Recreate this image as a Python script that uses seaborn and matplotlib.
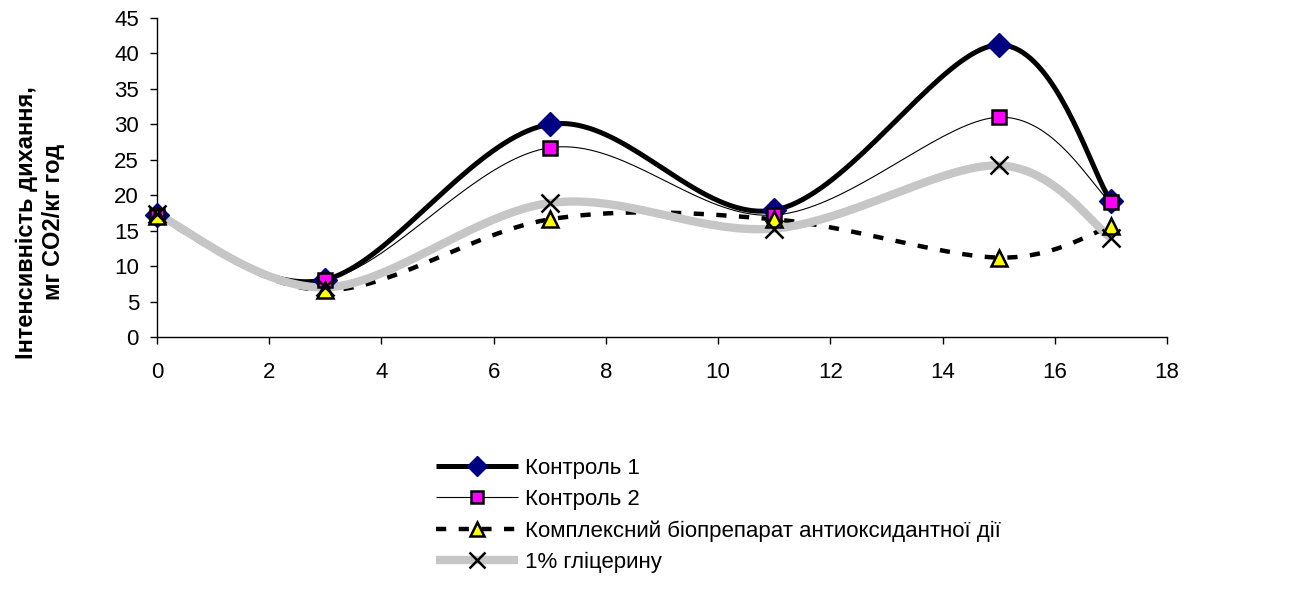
import numpy as np
import pandas as pd
import matplotlib
matplotlib.use("Agg")
import matplotlib.pyplot as plt
from matplotlib.lines import Line2D
import seaborn as sns

# Storage days and respiration intensity (mg CO2 / kg·h)
days = [0, 3, 7, 11, 15, 17]
control1 = [17.2, 8.1, 30.0, 17.9, 41.2, 19.2]
control2 = [17.1, 8.1, 26.7, 17.2, 31.0, 19.0]
complex_bio = [17.0, 6.6, 16.6, 16.6, 11.2, 15.6]
glycerin = [17.3, 7.0, 18.9, 15.3, 24.2, 14.0]

labels = ["Контроль 1", "Контроль 2",
          "Комплексний біопрепарат антиоксидантної дії", "1% гліцерину"]
x_ticks = [0, 2, 4, 6, 8, 10, 12, 14, 16, 18]
y_ticks = [0, 5, 10, 15, 20, 25, 30, 35, 40, 45]
xlim = (0, 18)
ylim = (0, 45)

sns.set_theme(style="ticks")
plt.rcParams["font.family"] = ["Liberation Sans", "DejaVu Sans"]
plt.rcParams.update({"text.color": "black", "axes.labelcolor": "black",
                     "xtick.color": "black", "ytick.color": "black",
                     "lines.solid_capstyle": "butt"})

W, H = 1296, 592
fig = plt.figure(figsize=(W / 100, H / 100), dpi=100)
ax = fig.add_axes([157 / W, 1 - 337 / H, (1167 - 157) / W, (337 - 18) / H])

ax_w_px, ax_h_px = 1010.0, 319.0


def smooth(xs, ys, n=40):
    """Bezier smoothing through the points (Catmull-Rom style, screen space)."""
    sx = ax_w_px / (xlim[1] - xlim[0])
    sy = ax_h_px / (ylim[1] - ylim[0])
    P = np.column_stack([np.asarray(xs, float) * sx, np.asarray(ys, float) * sy])
    m = len(P)
    out = []
    for i in range(m - 1):
        p0 = P[i - 1] if i > 0 else P[i]
        p1, p2 = P[i], P[i + 1]
        p3 = P[i + 2] if i + 2 < m else P[i + 1]
        c1 = p1 + (p2 - p0) / 6.0
        c2 = p2 - (p3 - p1) / 6.0
        t = np.linspace(0, 1, n, endpoint=(i == m - 2))[:, None]
        seg = ((1 - t) ** 3) * p1 + 3 * ((1 - t) ** 2) * t * c1 + 3 * (1 - t) * t ** 2 * c2 + t ** 3 * p2
        out.append(seg)
    out = np.vstack(out)
    return out[:, 0] / sx, out[:, 1] / sy


styles = [
    dict(color="black", lw=3.6, ls="-", marker="D", ms=12, mfc="#000080", mec="#000080", mew=1.0),
    dict(color="black", lw=0.8, ls="-", marker="s", ms=10, mfc="#ff00ff", mec="black", mew=1.8),
    dict(color="black", lw=3.2, ls=(0, (2.3, 2.8)), marker="^", ms=11.5, mfc="#ffff00", mec="black", mew=1.8),
    dict(color="#c6c6c6", lw=6.0, ls="-", marker="x", ms=13, mfc="black", mec="black", mew=1.8),
]
series = [control1, control2, complex_bio, glycerin]

for vals, st in zip(series, styles):
    sx_, sy_ = smooth(days, vals)
    df = pd.DataFrame({"x": sx_, "y": sy_})
    sns.lineplot(data=df, x="x", y="y", sort=False, ax=ax, color=st["color"],
                 linewidth=st["lw"], linestyle=st["ls"], legend=False, zorder=2)

for vals, st in zip(series, styles):
    ax.plot(days, vals, linestyle="none", marker=st["marker"], markersize=st["ms"],
            markerfacecolor=st["mfc"], markeredgecolor=st["mec"],
            markeredgewidth=st["mew"], zorder=4, clip_on=False)

ax.set_xlim(*xlim)
ax.set_ylim(*ylim)
ax.set_xticks(x_ticks)
ax.set_yticks(y_ticks)
ax.tick_params(axis="x", labelsize=16, length=5, width=1, pad=13, color="black")
ax.tick_params(axis="y", labelsize=16, length=5, width=1, pad=8, color="black")
for s in ["top", "right"]:
    ax.spines[s].set_visible(False)
for s in ["left", "bottom"]:
    ax.spines[s].set_color("black")
    ax.spines[s].set_linewidth(1.0)
ax.set_xlabel("")
ax.set_ylabel("Інтенсивність дихання,\nмг CO2/кг год", fontsize=17, fontweight="bold",
              linespacing=1.2)
ax.yaxis.set_label_coords(-0.091, 0.36)

handles = []
for st in styles:
    handles.append(Line2D([0], [0], color=st["color"], lw=st["lw"], ls=st["ls"],
                          marker=st["marker"], markersize=st["ms"] * 0.85,
                          markerfacecolor=st["mfc"], markeredgecolor=st["mec"],
                          markeredgewidth=st["mew"], solid_capstyle="butt",
                          dash_capstyle="butt"))
fig.legend(handles, labels, loc="upper left", bbox_to_anchor=(436 / W, 1 - 458 / H),
           frameon=False, fontsize=16, handlelength=3.7, handletextpad=0.3,
           labelspacing=0.45, numpoints=1, borderaxespad=0, borderpad=0)

fig.savefig("out.png", dpi=100)
